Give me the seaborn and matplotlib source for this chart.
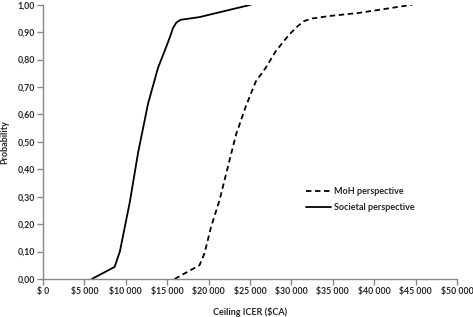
import pandas as pd
import matplotlib
matplotlib.use("Agg")
import matplotlib.pyplot as plt
import seaborn as sns
from matplotlib.ticker import FuncFormatter

# values
moh_x = [15900, 18900, 19500, 20300, 21300, 22300, 23300, 24500, 25700,
         26900, 28100, 29700, 30700, 31500, 32500, 34900, 38100, 44600]
moh_y = [0.00, 0.05, 0.093, 0.19, 0.285, 0.405, 0.525, 0.63, 0.72,
         0.77, 0.83, 0.89, 0.92, 0.94, 0.95, 0.96, 0.97, 1.00]

soc_x = [5900, 8650, 9280, 10480, 11480, 12690, 13890, 14800, 15300,
         15700, 16100, 16600, 18900, 25100]
soc_y = [0.00, 0.044, 0.10, 0.28, 0.46, 0.64, 0.77, 0.84, 0.88,
         0.915, 0.935, 0.945, 0.955, 1.00]

series = ["MoH perspective", "Societal perspective"]

sns.set_style("white")
plt.rcParams['font.family'] = ['Lato', 'DejaVu Sans']

fig = plt.figure(figsize=(4.73, 3.17), dpi=100)
ax = fig.add_axes([0.091, 0.12, 0.875, 0.865])

df_moh = pd.DataFrame({"x": moh_x, "y": moh_y})
df_soc = pd.DataFrame({"x": soc_x, "y": soc_y})
sns.lineplot(data=df_moh, x="x", y="y", ax=ax, color="black", lw=1.3,
             linestyle=(0, (3, 2)), label=series[0], sort=False)
sns.lineplot(data=df_soc, x="x", y="y", ax=ax, color="black", lw=1.3,
             label=series[1], sort=False)

ax.set_xlim(0, 50000)
ax.set_ylim(0, 1.0)
ax.set_xticks(range(0, 50001, 5000))
ax.set_yticks([i / 10 for i in range(11)])
ax.xaxis.set_major_formatter(FuncFormatter(
    lambda v, p: "$ 0" if v == 0 else "$" + f"{int(v):,}".replace(",", " ")))
ax.yaxis.set_major_formatter(FuncFormatter(lambda v, p: f"{v:.2f}".replace(".", ",")))

for s in ["top", "right"]:
    ax.spines[s].set_visible(False)
for s in ["left", "bottom"]:
    ax.spines[s].set_color("#888888")
    ax.spines[s].set_linewidth(1.0)
ax.tick_params(axis="both", which="major", direction="out", length=4,
               width=1, color="#888888", labelsize=6.3, pad=2,
               bottom=True, left=True)
for lbl in ax.get_xticklabels() + ax.get_yticklabels():
    lbl.set_fontweight("bold")

ax.set_xlabel("Ceiling ICER ($CA)", fontsize=6.5, fontweight="bold", labelpad=8)
ax.set_ylabel("Probability", fontsize=6.5, fontweight="bold", labelpad=6)

leg = ax.legend(loc="center left", bbox_to_anchor=(0.615, 0.29), frameon=False,
                fontsize=6.5, handlelength=2.8, handletextpad=0.3,
                labelspacing=0.8)
for t in leg.get_texts():
    t.set_fontweight("bold")

fig.savefig("out.png", dpi=100)
